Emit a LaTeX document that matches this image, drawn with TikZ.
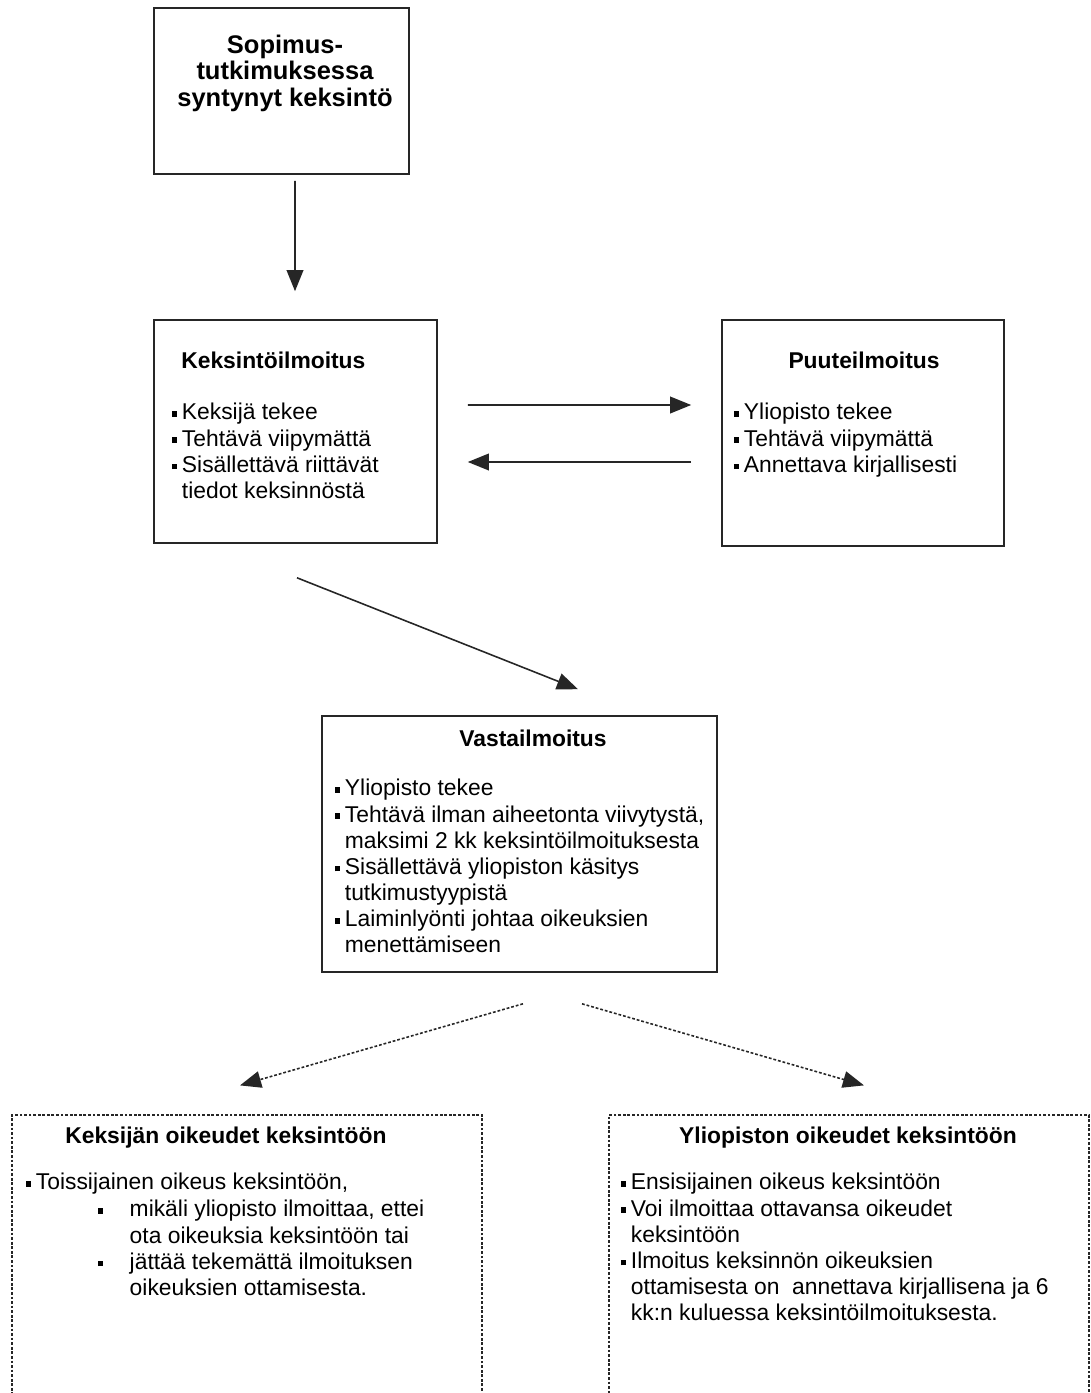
\documentclass[tikz,border=0pt]{standalone}
\usepackage{fontspec}
\setmainfont{Liberation Sans}
\usepackage{tikz}
\usetikzlibrary{arrows.meta,%
                calc,fit}

\newcommand{\sqbul}{\rule[0.14em]{0.22em}{0.24em}}
\newcommand{\bl}{\sqbul\hspace{0.2em}}
\newcommand{\hg}{\hphantom{\bl}}

\begin{document}
\begin{tikzpicture}[x=0.02cm,y=-0.02cm,
  box/.style={draw=black!85, line width=0.9pt, inner sep=0pt},
  dotbox/.style={draw=black!85, line width=0.7pt, dash pattern=on 1.6pt off 1pt, inner sep=0pt},
  txt/.style={anchor=north west, align=left, inner sep=0pt, font=\fontsize{13}{14.9}\selectfont},
  ttl/.style={txt, font=\fontsize{13}{14.9}\selectfont\bfseries},
  arr/.style={line width=0.9pt, draw=black!85, -{Triangle[length=12pt,width=9.5pt]}},
  darr/.style={arr, dash pattern=on 1.6pt off 1.1pt}]
\path[use as bounding box] (0,0) rectangle (1090,1393);
\clip (0,0) rectangle (1090,1393);
% boxes
\node[box, fit={(154,8) (409,174)}] (sopimus) {};
\node[box, fit={(154,320) (437,543)}] (keksinto) {};
\node[box, fit={(722,320) (1004,546)}] (puute) {};
\node[box, fit={(322,716) (717,972)}] (vasta) {};
\node[dotbox, fit={(12,1115) (482,1405)}] (keksija) {};
\node[dotbox, fit={(609,1115) (1089,1405)}] (yliopisto) {};
% texts
\node[anchor=north, align=center, inner sep=0pt, font=\fontsize{14.5}{14.9}\selectfont\bfseries]
  (sopimusT) at (285,35) {Sopimus-\\tutkimuksessa\\syntynyt keksintö};
\node[ttl] (keksintoT) at (181,352) {Keksintöilmoitus};
\node[txt] (keksintoB) at (172,403) {\bl Keksijä tekee\\ \bl Tehtävä viipymättä\\
  \bl Sisällettävä riittävät\\ \hg tiedot keksinnöstä};
\node[ttl, anchor=north] (puuteT) at (864,352) {Puuteilmoitus};
\node[txt] (puuteB) at (734,403) {\bl Yliopisto tekee\\ \bl Tehtävä viipymättä\\
  \bl Annettava kirjallisesti};
\node[ttl, anchor=north] (vastaT) at (533,730) {Vastailmoitus};
\node[txt] (vastaB) at (335,779) {\bl Yliopisto tekee\\ \bl Tehtävä ilman aiheetonta viivytystä,\\
  \hg maksimi 2 kk keksintöilmoituksesta\\ \bl Sisällettävä yliopiston käsitys\\
  \hg tutkimustyypistä\\ \bl Laiminlyönti johtaa oikeuksien\\ \hg menettämiseen};
\node[ttl] (keksijaT) at (65,1127) {Keksijän oikeudet keksintöön};
\node[txt] (keksijaB) at (26,1173) {\bl Toissijainen oikeus keksintöön,};
\node[txt] (keksijaC) at (98,1200) {\sqbul\hspace{15pt}mikäli yliopisto ilmoittaa, ettei\\
  \hphantom{\sqbul\hspace{15pt}}ota oikeuksia keksintöön tai\\
  \sqbul\hspace{15pt}jättää tekemättä ilmoituksen\\
  \hphantom{\sqbul\hspace{15pt}}oikeuksien ottamisesta.};
\node[ttl, anchor=north] (yliopistoT) at (848,1127) {Yliopiston oikeudet keksintöön};
\node[txt] (yliopistoB) at (621,1173) {\bl Ensisijainen oikeus keksintöön\\
  \bl Voi ilmoittaa ottavansa oikeudet\\ \hg keksintöön\\
  \bl Ilmoitus keksinnön oikeuksien\\ \hg ottamisesta on \ annettava kirjallisena ja 6\\
  \hg kk:n kuluessa keksintöilmoituksesta.};
% arrows
\draw[arr] ($(sopimus.south)+(13.5,6)$) -- ($(keksinto.north)+(-0.5,-28)$);
\draw[arr] ($(keksinto.east)+(30,-26.5)$) -- ($(puute.west)+(-30,-28)$);
\draw[arr] ($(puute.west)+(-30,29)$) -- ($(keksinto.east)+(30,30.5)$);
\draw[arr] ($(keksinto.south)+(1.5,34)$) -- ($(vasta.north)+(58.5,-26)$);
\draw[darr] ($(vasta.south)+(3.5,31)$) -- ($(keksija.north)+(-7,-29)$);
\draw[darr] ($(vasta.south)+(62.5,31)$) -- ($(yliopisto.north)+(15,-29)$);
\end{tikzpicture}
\end{document}
